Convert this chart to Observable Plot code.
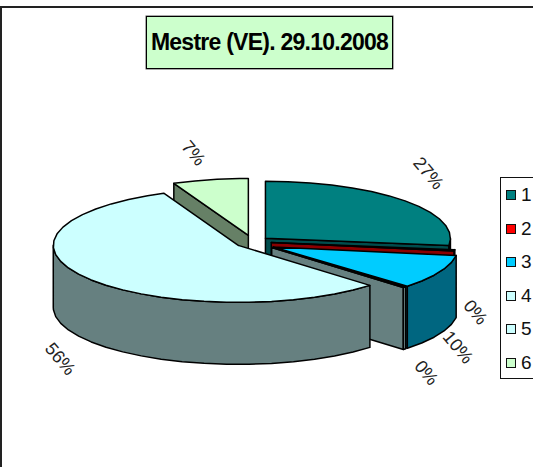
<!DOCTYPE html>
<html>
<head>
<meta charset="utf-8">
<script src="https://cdn.jsdelivr.net/npm/d3@7"></script>
<script src="https://cdn.jsdelivr.net/npm/@observablehq/plot@0.6"></script>
<style>
  html, body { margin: 0; padding: 0; background: #fff; overflow: hidden; }
  #chart { position: relative; width: 533px; height: 467px; overflow: hidden; font-family: "Liberation Sans", sans-serif; }
  #frame { position: absolute; left: 0; top: 6px; width: 700px; height: 700px; border: 2px solid #222; box-sizing: border-box; }
  #chart svg { position: absolute; left: 0; top: 0; background: transparent; }
  #title { position: absolute; left: 146px; top: 16px; width: 247px; height: 53px; box-sizing: border-box; border: 1px solid #000; box-shadow: 0 0 0 0.5px #555;
           background: #ccffcc; color: #000; font-weight: bold; font-size: 23px; line-height: 51px; text-align: center; white-space: nowrap; letter-spacing: -0.75px; }
  #legend { position: absolute; left: 500px; top: 177px; width: 80px; height: 202px; box-sizing: border-box; border: 1.5px solid #111; background: #fff; }
  .item { position: absolute; left: 5px; height: 20px; }
  .swatch { position: absolute; left: 0; top: 5px; width: 10px; height: 10px; box-sizing: border-box; border: 1.5px solid #111; }
  .name { position: absolute; left: 15px; top: 0; font-size: 19px; line-height: 20px; color: #111; }
</style>
</head>
<body>
<div id="chart">
  <div id="frame"></div>
</div>
<script>
const titleText = "Mestre (VE). 29.10.2008";
const categories = ["1", "2", "3", "4", "5", "6"];
const shares = [27, 0.4, 9.7, 0.3, 56, 6.6];
const percentLabels = ["27%", "0%", "10%", "0%", "56%", "7%"];
const topColors = ["#008080", "#ff0000", "#00ccff", "#ccffff", "#ccffff", "#ccffcc"];
const sideColors = ["#004d4d", "#8a0000", "#006680", "#668080", "#668080", "#668066"];
const explodeX = [0.086, 0.097, 0.119, 0.137, 0.1, 0.135];
const explodeY = [0.086, 0.125, 0.22, 0.15, 0.119, 0.108];
const labelRadiusX = [1.26, 1.21, 1.23, 1.30, 1.27, 1.58];
const labelRadiusY = [1.81, 1.14, 1.75, 1.75, 1.72, 1.58];
const drawOrder = [5, 0, 1, 2, 3, 4];

const depth = 62 / 57;          // pie thickness in y-scale units
const stepDeg = 7;              // the outline's polygonal step
const rad = d => d * Math.PI / 180;

const total = d3.sum(shares);
let running = 0;
const slices = shares.map((v, i) => {
  const a0 = running / total * 360;
  running += v;
  const a1 = running / total * 360;
  const mid = rad((a0 + a1) / 2);
  return {i, a0, a1, mid, cx: explodeX[i] * Math.sin(mid), cy: explodeY[i] * Math.cos(mid)};
});

const rim = (s, a, drop = 0) => ({x: s.cx + Math.sin(rad(a)), y: s.cy + Math.cos(rad(a)) - drop});
const arc = (s, from, to, drop = 0) => {
  const out = [];
  for (let a = from; a < to; a += stepDeg) out.push(rim(s, a, drop));
  out.push(rim(s, to, drop));
  return out;
};

const faces = [];
const addFace = (id, color, pts) => {
  const closed = [...pts, pts[0]];
  closed.forEach(p => faces.push({face: id, color, x: p.x, y: p.y}));
};
for (const k of drawOrder) {
  const s = slices[k];
  const apex = {x: s.cx, y: s.cy};
  const apexLow = {x: s.cx, y: s.cy - depth};
  if (Math.sin(rad(s.a0)) < 0)
    addFace(`w0${k}`, sideColors[k], [apex, rim(s, s.a0), rim(s, s.a0, depth), apexLow]);
  if (Math.sin(rad(s.a1)) > 0)
    addFace(`w1${k}`, sideColors[k], [apex, rim(s, s.a1), rim(s, s.a1, depth), apexLow]);
  const f0 = Math.max(s.a0, 90), f1 = Math.min(s.a1, 270);
  if (f1 > f0)
    addFace(`o${k}`, sideColors[k], [...arc(s, f0, f1), ...arc(s, f0, f1, depth).reverse()]);
  addFace(`t${k}`, topColors[k], [apex, ...arc(s, s.a0, s.a1)]);
}

const labels = slices.map(s => ({
  text: percentLabels[s.i],
  x: labelRadiusX[s.i] * Math.sin(s.mid),
  y: labelRadiusY[s.i] * Math.cos(s.mid) - (Math.cos(s.mid) < 0 ? depth : 0)
}));

const plot = Plot.plot({
  width: 533,
  height: 467,
  margin: 0,
  style: {background: "transparent"},
  x: {axis: null, domain: [-1, 1], range: [68, 438]},
  y: {axis: null, domain: [1, -1], range: [184, 298]},
  marks: [
    Plot.line(faces, {x: "x", y: "y", z: "face", fill: "color", stroke: "#000", strokeWidth: 1.5, strokeLinejoin: "round"}),
    Plot.text(labels, {x: "x", y: "y", text: "text", rotate: 50, fontSize: 18, fill: "#222", fontFamily: "Liberation Sans", textAnchor: "middle", lineAnchor: "middle"})
  ]
});

const chart = document.getElementById("chart");
chart.appendChild(plot);

const title = document.createElement("div");
title.id = "title";
title.textContent = titleText;
chart.appendChild(title);

const legend = document.createElement("div");
legend.id = "legend";
categories.forEach((c, i) => {
  const item = document.createElement("div");
  item.className = "item";
  item.style.top = (7 + i * 33.6) + "px";
  const sw = document.createElement("div");
  sw.className = "swatch";
  sw.style.background = topColors[i];
  const nm = document.createElement("div");
  nm.className = "name";
  nm.textContent = c;
  item.append(sw, nm);
  legend.appendChild(item);
});
chart.appendChild(legend);
</script>
</body>
</html>
